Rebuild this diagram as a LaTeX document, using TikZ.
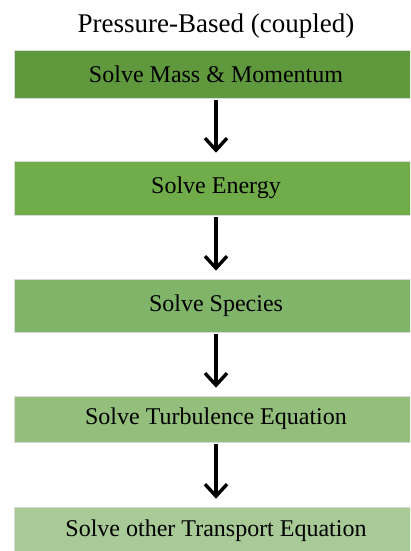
\documentclass[tikz,border=0pt]{standalone}
\usepackage{fontspec}
\setmainfont{Liberation Serif}
\usetikzlibrary{arrows.meta}
\definecolor{gA}{RGB}{96,152,62}
\definecolor{gB}{RGB}{112,172,74}
\definecolor{gC}{RGB}{128,180,104}
\definecolor{gD}{RGB}{147,190,124}
\definecolor{gE}{RGB}{168,202,150}
\tikzset{
  stepbox/.style={draw=white!85!black, line width=0.6pt, minimum width=404pt, inner sep=0pt, font=\fontsize{24}{28}\selectfont, text=black},
  flow/.style={-{Straight Barb[length=12pt,width=22pt,line width=3.4pt]}, line width=3.8pt, shorten <=2pt, shorten >=8pt}
}
\begin{document}
\begin{tikzpicture}[x=1pt,y=1pt]
\useasboundingbox (0,0) rectangle (410,551);
\clip (0,0) rectangle (410,551);
\fill[white] (0,0) rectangle (410,551);
\node[anchor=base, inner sep=0pt] (title) at (216,518) {\fontsize{27}{32}\selectfont Pressure-Based (coupled)};
\node[stepbox, fill=gA, minimum height=48pt] (b1) at (216,477) {Solve Mass \& Momentum};
\node[stepbox, fill=gB, minimum height=54pt] (b2) at (216,363) {Solve Energy};
\node[stepbox, fill=gC, minimum height=53pt] (b3) at (216,245.5) {Solve Species};
\node[stepbox, fill=gD, minimum height=46pt] (b4) at (216,132) {Solve Turbulence Equation};
\node[stepbox, fill=gE, minimum height=48pt] (b5) at (216,20) {Solve other Transport Equation};
\draw[flow] (b1) -- (b2);
\draw[flow] (b2) -- (b3);
\draw[flow] (b3) -- (b4);
\draw[flow] (b4) -- (b5);
\end{tikzpicture}
\end{document}
